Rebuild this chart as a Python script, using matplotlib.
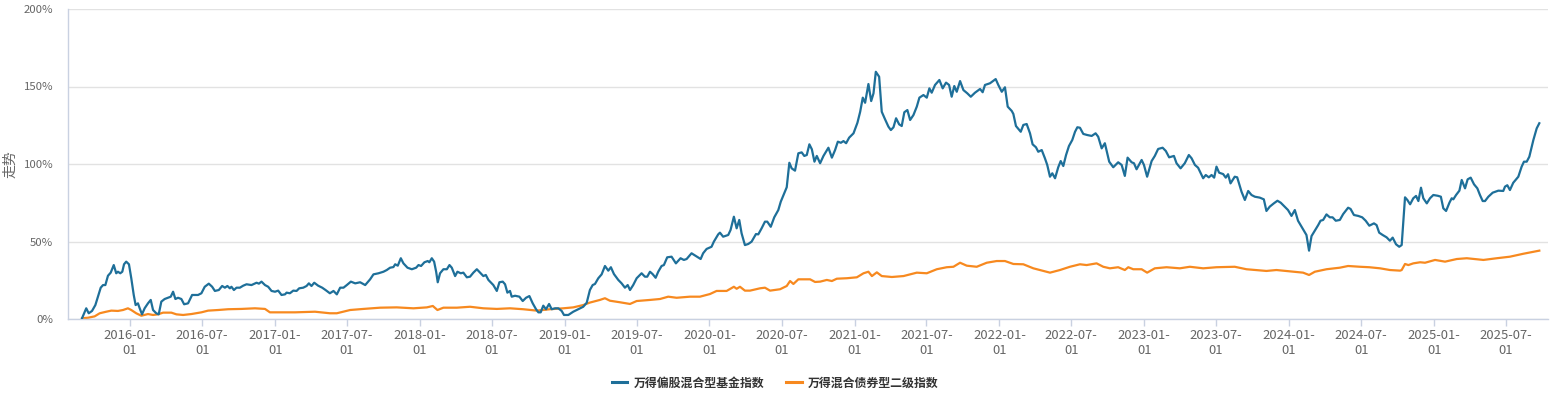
import matplotlib
matplotlib.use("Agg")
import matplotlib.pyplot as plt
from matplotlib.lines import Line2D
from matplotlib.ticker import FuncFormatter
import pandas as pd

plt.rcParams['font.family'] = ['Noto Sans CJK SC', 'DejaVu Sans']

# ---------------- data (decimal years, cumulative return %) ----------------
blue_name = "万得偏股混合型基金指数"
orange_name = "万得混合债券型二级指数"

blue_t = [2015.669, 2015.698, 2015.715, 2015.738, 2015.761, 2015.779, 2015.798, 2015.814, 2015.830, 2015.848,
          2015.867, 2015.888, 2015.905, 2015.917, 2015.933, 2015.947, 2015.959, 2015.974, 2015.993, 2016.009,
          2016.026, 2016.039, 2016.055, 2016.067, 2016.083, 2016.101, 2016.124, 2016.143, 2016.159, 2016.181,
          2016.198, 2016.216, 2016.239, 2016.262, 2016.281, 2016.297, 2016.313, 2016.331, 2016.354, 2016.373,
          2016.400, 2016.428, 2016.469, 2016.492, 2016.515, 2016.543, 2016.566, 2016.585, 2016.612, 2016.635,
          2016.654, 2016.671, 2016.688, 2016.699, 2016.716, 2016.734, 2016.757, 2016.780, 2016.803, 2016.837,
          2016.872, 2016.888, 2016.906, 2016.930, 2016.952, 2016.975, 2016.999, 2017.021, 2017.044, 2017.068,
          2017.079, 2017.102, 2017.125, 2017.148, 2017.166, 2017.194, 2017.217, 2017.233, 2017.251, 2017.270,
          2017.297, 2017.325, 2017.348, 2017.378, 2017.403, 2017.426, 2017.449, 2017.472, 2017.495, 2017.523,
          2017.553, 2017.587, 2017.622, 2017.656, 2017.679, 2017.714, 2017.748, 2017.771, 2017.794, 2017.817,
          2017.829, 2017.847, 2017.868, 2017.886, 2017.914, 2017.944, 2017.974, 2017.990, 2018.008, 2018.031,
          2018.054, 2018.065, 2018.082, 2018.098, 2018.112, 2018.123, 2018.139, 2018.162, 2018.186, 2018.204,
          2018.220, 2018.243, 2018.259, 2018.282, 2018.300, 2018.324, 2018.346, 2018.369, 2018.393, 2018.415,
          2018.438, 2018.455, 2018.473, 2018.507, 2018.531, 2018.549, 2018.572, 2018.588, 2018.604, 2018.622,
          2018.634, 2018.657, 2018.687, 2018.710, 2018.733, 2018.756, 2018.779, 2018.802, 2018.818, 2018.834,
          2018.852, 2018.871, 2018.892, 2018.910, 2018.933, 2018.956, 2018.979, 2018.995, 2019.025, 2019.059,
          2019.094, 2019.128, 2019.152, 2019.174, 2019.193, 2019.209, 2019.232, 2019.255, 2019.278, 2019.301,
          2019.319, 2019.340, 2019.370, 2019.393, 2019.416, 2019.435, 2019.451, 2019.473, 2019.497, 2019.531,
          2019.554, 2019.570, 2019.589, 2019.607, 2019.628, 2019.646, 2019.669, 2019.685, 2019.708, 2019.738,
          2019.768, 2019.800, 2019.823, 2019.842, 2019.876, 2019.906, 2019.939, 2019.956, 2019.980, 2020.014,
          2020.030, 2020.060, 2020.072, 2020.094, 2020.129, 2020.145, 2020.168, 2020.187, 2020.205, 2020.221,
          2020.244, 2020.267, 2020.290, 2020.320, 2020.336, 2020.359, 2020.382, 2020.398, 2020.422, 2020.446,
          2020.474, 2020.491, 2020.532, 2020.550, 2020.566, 2020.589, 2020.612, 2020.635, 2020.653, 2020.670,
          2020.688, 2020.705, 2020.723, 2020.739, 2020.762, 2020.785, 2020.819, 2020.843, 2020.865, 2020.884,
          2020.905, 2020.923, 2020.941, 2020.962, 2020.992, 2021.019, 2021.038, 2021.056, 2021.072, 2021.095,
          2021.114, 2021.130, 2021.146, 2021.169, 2021.187, 2021.210, 2021.233, 2021.250, 2021.268, 2021.286,
          2021.307, 2021.325, 2021.343, 2021.364, 2021.383, 2021.406, 2021.429, 2021.447, 2021.475, 2021.498,
          2021.516, 2021.532, 2021.555, 2021.585, 2021.608, 2021.631, 2021.652, 2021.670, 2021.688, 2021.705,
          2021.728, 2021.751, 2021.778, 2021.802, 2021.831, 2021.866, 2021.884, 2021.900, 2021.935, 2021.974,
          2021.992, 2022.016, 2022.038, 2022.057, 2022.085, 2022.096, 2022.114, 2022.147, 2022.165, 2022.188,
          2022.211, 2022.229, 2022.252, 2022.268, 2022.292, 2022.314, 2022.330, 2022.349, 2022.365, 2022.384,
          2022.406, 2022.423, 2022.441, 2022.460, 2022.480, 2022.503, 2022.522, 2022.538, 2022.556, 2022.579,
          2022.606, 2022.637, 2022.664, 2022.682, 2022.706, 2022.728, 2022.758, 2022.786, 2022.820, 2022.844,
          2022.866, 2022.885, 2022.913, 2022.929, 2022.947, 2022.982, 2022.998, 2023.020, 2023.051, 2023.073,
          2023.096, 2023.127, 2023.149, 2023.172, 2023.205, 2023.223, 2023.251, 2023.280, 2023.308, 2023.327,
          2023.350, 2023.372, 2023.407, 2023.425, 2023.446, 2023.465, 2023.483, 2023.499, 2023.517, 2023.545,
          2023.563, 2023.579, 2023.596, 2023.625, 2023.642, 2023.672, 2023.695, 2023.718, 2023.741, 2023.764,
          2023.798, 2023.826, 2023.844, 2023.867, 2023.895, 2023.920, 2023.943, 2023.970, 2023.993, 2024.017,
          2024.040, 2024.062, 2024.093, 2024.120, 2024.138, 2024.155, 2024.178, 2024.201, 2024.217, 2024.235,
          2024.258, 2024.281, 2024.300, 2024.322, 2024.350, 2024.373, 2024.407, 2024.424, 2024.447, 2024.477,
          2024.504, 2024.528, 2024.553, 2024.585, 2024.603, 2024.621, 2024.645, 2024.672, 2024.695, 2024.714,
          2024.737, 2024.759, 2024.776, 2024.799, 2024.815, 2024.834, 2024.856, 2024.875, 2024.891, 2024.909,
          2024.925, 2024.949, 2024.971, 2024.994, 2025.025, 2025.046, 2025.063, 2025.082, 2025.105, 2025.121,
          2025.132, 2025.151, 2025.174, 2025.190, 2025.213, 2025.231, 2025.252, 2025.275, 2025.298, 2025.316,
          2025.335, 2025.351, 2025.374, 2025.404, 2025.443, 2025.477, 2025.489, 2025.505, 2025.523, 2025.546,
          2025.581, 2025.604, 2025.620, 2025.639, 2025.657, 2025.685, 2025.708, 2025.726]

blue_v = [0.5, 6.9, 3.7, 5.2, 9.0, 14.4, 20.2, 21.9, 21.9, 27.9,
          29.9, 34.8, 29.5, 30.5, 29.5, 30.5, 35.3, 37.0, 35.3, 26.3,
          15.5, 9.0, 10.1, 6.9, 3.0, 6.9, 10.1, 12.3, 5.8, 3.7,
          3.0, 11.2, 12.9, 13.7, 14.4, 17.6, 12.9, 13.7, 12.9, 9.5,
          10.1, 15.5, 15.5, 16.6, 20.8, 22.8, 20.8, 18.1, 18.7, 21.3,
          20.2, 21.3, 19.8, 20.8, 18.7, 20.2, 20.2, 21.5, 22.4, 21.9,
          23.4, 22.8, 24.1, 21.9, 20.8, 18.1, 17.6, 18.3, 15.5, 15.9,
          17.0, 16.6, 18.3, 18.1, 19.8, 20.2, 21.3, 23.0, 21.3, 23.4,
          21.5, 20.2, 18.7, 16.6, 18.1, 15.9, 20.2, 20.2, 21.9, 24.1,
          23.0, 23.7, 21.9, 25.6, 28.8, 29.5, 30.5, 31.6, 33.1, 33.5,
          35.3, 34.4, 39.2, 35.9, 33.1, 32.1, 33.1, 34.8, 34.2, 36.6,
          37.4, 36.6, 39.2, 37.0, 30.5, 23.7, 29.5, 32.1, 32.1, 34.8,
          33.1, 27.7, 30.5, 29.5, 29.9, 26.9, 27.3, 29.9, 32.1, 29.9,
          27.7, 28.4, 25.2, 21.9, 18.1, 23.7, 24.1, 22.4, 17.0, 18.1,
          14.4, 15.0, 14.4, 11.6, 13.7, 14.8, 10.1, 6.3, 4.3, 4.3,
          8.6, 6.3, 9.7, 6.3, 6.9, 6.9, 5.2, 2.6, 2.6, 4.7,
          6.3, 7.9, 10.5, 18.7, 21.9, 22.6, 26.3, 28.8, 34.2, 31.2,
          33.4, 29.0, 25.2, 23.0, 20.2, 21.9, 18.7, 21.9, 26.3, 29.5,
          27.3, 27.3, 30.5, 29.0, 26.6, 30.5, 34.2, 34.8, 39.8, 40.2,
          35.9, 39.2, 38.1, 38.7, 42.4, 40.6, 38.7, 42.4, 45.2, 46.6,
          49.9, 54.6, 55.7, 53.1, 54.2, 57.4, 66.0, 58.5, 63.9, 55.3,
          47.7, 48.4, 49.9, 54.8, 54.6, 58.5, 62.8, 62.8, 59.5, 65.6,
          70.3, 75.7, 85.0, 100.8, 97.2, 95.7, 106.9, 107.5, 105.2, 105.8,
          112.7, 109.5, 101.5, 105.2, 100.5, 105.2, 110.5, 104.1, 109.0, 114.4,
          113.7, 114.8, 113.4, 117.0, 119.8, 126.6, 133.7, 142.8, 139.5, 151.6,
          140.6, 145.6, 159.5, 156.3, 133.7, 128.8, 124.1, 121.9, 123.7, 129.5,
          125.6, 124.5, 133.4, 134.8, 128.4, 131.6, 137.0, 142.8, 144.5, 142.8,
          148.8, 146.0, 151.0, 154.2, 148.8, 152.5, 151.0, 143.4, 150.3, 146.6,
          153.5, 147.7, 145.6, 143.4, 146.0, 148.4, 146.3, 151.0, 152.1, 154.8,
          151.0, 146.6, 149.5, 137.0, 134.2, 132.3, 124.5, 120.8, 125.2, 125.8,
          119.8, 112.7, 110.8, 107.9, 109.0, 103.7, 99.4, 91.8, 94.0, 90.8,
          97.9, 101.9, 98.7, 105.8, 111.6, 115.5, 120.8, 123.7, 123.4, 119.4,
          118.7, 118.1, 119.8, 117.6, 110.1, 113.4, 101.5, 97.9, 101.1, 99.4,
          92.3, 104.1, 101.1, 100.5, 96.6, 102.6, 99.4, 91.8, 101.9, 105.2,
          109.7, 110.5, 108.4, 104.3, 105.2, 100.5, 97.2, 100.5, 105.8, 103.7,
          99.4, 97.6, 90.8, 92.9, 91.4, 92.9, 91.2, 98.3, 94.4, 93.5,
          91.2, 93.4, 87.5, 91.8, 91.4, 82.1, 76.8, 82.6, 80.0, 78.9,
          78.3, 77.2, 69.7, 72.5, 74.6, 76.3, 75.0, 72.5, 70.3, 66.5,
          70.3, 63.4, 58.5, 54.2, 44.1, 53.5, 57.0, 60.6, 63.4, 63.9,
          67.5, 65.6, 65.6, 63.4, 63.9, 67.7, 71.8, 71.0, 67.1, 66.5,
          65.6, 63.4, 60.2, 61.7, 60.6, 55.7, 54.2, 52.7, 50.5, 52.5,
          48.2, 46.6, 47.7, 78.5, 76.8, 74.0, 77.9, 79.4, 76.1, 84.7,
          77.9, 74.6, 77.9, 80.0, 79.5, 78.9, 71.4, 69.7, 75.0, 77.9,
          77.2, 80.0, 82.8, 89.7, 84.3, 90.1, 91.2, 86.9, 84.3, 80.0,
          76.1, 76.1, 78.9, 81.5, 82.8, 82.6, 85.4, 86.3, 83.2, 87.9,
          91.8, 98.3, 101.5, 101.5, 104.7, 115.5, 123.0, 126.3]

orange_t = [2015.669, 2015.710, 2015.756, 2015.791, 2015.836, 2015.871, 2015.917, 2015.952, 2015.986, 2016.009,
            2016.043, 2016.078, 2016.124, 2016.159, 2016.193, 2016.228, 2016.285, 2016.320, 2016.366, 2016.423,
            2016.492, 2016.538, 2016.607, 2016.676, 2016.768, 2016.861, 2016.930, 2016.964, 2017.021, 2017.137,
            2017.275, 2017.378, 2017.426, 2017.518, 2017.610, 2017.725, 2017.840, 2017.955, 2018.048, 2018.089,
            2018.121, 2018.162, 2018.255, 2018.346, 2018.438, 2018.531, 2018.622, 2018.714, 2018.807, 2018.898,
            2018.990, 2019.059, 2019.128, 2019.174, 2019.243, 2019.278, 2019.312, 2019.381, 2019.451, 2019.497,
            2019.589, 2019.658, 2019.715, 2019.773, 2019.865, 2019.934, 2020.003, 2020.049, 2020.118, 2020.168,
            2020.187, 2020.210, 2020.244, 2020.279, 2020.348, 2020.382, 2020.417, 2020.486, 2020.532, 2020.555,
            2020.578, 2020.612, 2020.693, 2020.727, 2020.762, 2020.808, 2020.843, 2020.877, 2020.946, 2021.015,
            2021.061, 2021.095, 2021.119, 2021.153, 2021.187, 2021.257, 2021.337, 2021.429, 2021.498, 2021.567,
            2021.636, 2021.682, 2021.728, 2021.774, 2021.843, 2021.912, 2021.981, 2022.038, 2022.096, 2022.165,
            2022.234, 2022.280, 2022.349, 2022.418, 2022.487, 2022.556, 2022.602, 2022.671, 2022.717, 2022.763,
            2022.820, 2022.866, 2022.890, 2022.924, 2022.982, 2023.020, 2023.073, 2023.154, 2023.246, 2023.315,
            2023.407, 2023.499, 2023.625, 2023.706, 2023.844, 2023.913, 2024.028, 2024.097, 2024.138, 2024.178,
            2024.258, 2024.350, 2024.407, 2024.489, 2024.553, 2024.627, 2024.695, 2024.765, 2024.776, 2024.799,
            2024.822, 2024.856, 2024.903, 2024.937, 2025.006, 2025.075, 2025.156, 2025.225, 2025.340, 2025.432,
            2025.523, 2025.616, 2025.685, 2025.726]

orange_v = [0.5, 0.8, 1.7, 3.7, 4.7, 5.4, 5.2, 5.8, 6.9, 5.8,
            3.7, 2.1, 3.2, 2.6, 3.0, 4.1, 4.1, 3.0, 2.6, 3.2,
            4.3, 5.4, 5.8, 6.3, 6.5, 6.9, 6.5, 4.3, 4.3, 4.3,
            4.7, 3.7, 3.7, 5.8, 6.5, 7.3, 7.5, 6.9, 7.5, 8.4,
            5.8, 7.3, 7.3, 7.9, 6.9, 6.5, 6.9, 6.3, 5.4, 6.3,
            6.9, 7.5, 9.0, 10.6, 12.3, 13.4, 11.8, 10.8, 9.7, 11.6,
            12.3, 12.9, 14.4, 13.7, 14.4, 14.4, 16.1, 18.1, 18.1, 20.8,
            19.5, 20.8, 18.3, 18.3, 19.8, 20.2, 18.3, 19.2, 21.3, 24.5,
            22.6, 25.6, 25.6, 23.9, 24.1, 25.2, 24.5, 26.0, 26.3, 26.9,
            29.5, 30.5, 27.7, 30.1, 27.7, 27.1, 27.7, 29.9, 29.5, 32.1,
            33.4, 33.7, 36.3, 34.4, 33.7, 36.3, 37.4, 37.4, 35.5, 35.3,
            32.7, 31.6, 29.9, 31.6, 33.7, 35.3, 34.8, 35.9, 33.7, 32.7,
            33.4, 31.6, 33.4, 32.1, 32.1, 29.9, 32.7, 33.4, 32.7, 33.7,
            32.7, 33.4, 33.7, 32.1, 31.0, 31.6, 30.5, 29.9, 28.4, 30.5,
            32.1, 33.1, 34.2, 33.7, 33.4, 32.7, 31.6, 31.2, 31.6, 35.5,
            34.8, 35.9, 36.6, 36.3, 38.1, 37.0, 38.7, 39.2, 38.1, 39.2,
            40.2, 42.1, 43.4, 44.1]

y_ticks = [0, 50, 100, 150, 200]
x_tick_dates = ["2016-01-01", "2016-07-01", "2017-01-01", "2017-07-01", "2018-01-01",
                "2018-07-01", "2019-01-01", "2019-07-01", "2020-01-01", "2020-07-01",
                "2021-01-01", "2021-07-01", "2022-01-01", "2022-07-01", "2023-01-01",
                "2023-07-01", "2024-01-01", "2024-07-01", "2025-01-01", "2025-07-01"]
y_label = "走势"

assert len(blue_t) == len(blue_v)
assert len(orange_t) == len(orange_v)


def dec_to_dt(y):
    yr = int(y)
    start = pd.Timestamp(yr, 1, 1)
    end = pd.Timestamp(yr + 1, 1, 1)
    return start + (end - start) * (y - yr)


BLUE = "#1e6f99"
ORANGE = "#f7891f"
AXIS = "#c9d1e1"
GRID = "#e2e2e2"
TXT = "#666666"

W, H = 1561, 396
fig = plt.figure(figsize=(W / 100, H / 100), dpi=100)
ax = fig.add_axes([68 / W, 1 - 319 / H, 1480 / W, 310 / H])

ax.plot([dec_to_dt(t) for t in blue_t], blue_v, color=BLUE, lw=1.6,
        solid_joinstyle="round", zorder=3)
ax.plot([dec_to_dt(t) for t in orange_t], orange_v, color=ORANGE, lw=1.6,
        solid_joinstyle="round", zorder=2)

ax.set_ylim(0, 200)
ax.set_yticks(y_ticks)
ax.yaxis.set_major_formatter(FuncFormatter(lambda v, p: f"{v:.0f}%"))
ax.yaxis.grid(True, color=GRID, lw=1)
ax.set_axisbelow(True)

ax.set_xlim(dec_to_dt(2015.572), dec_to_dt(2025.786))
ticks = [pd.Timestamp(d) for d in x_tick_dates]
ax.set_xticks(ticks)
ax.set_xticklabels([d[:8] + "\n" + d[8:] for d in x_tick_dates])

for s in ["top", "right"]:
    ax.spines[s].set_visible(False)
for s in ["left", "bottom"]:
    ax.spines[s].set_color(AXIS)
    ax.spines[s].set_linewidth(1)

ax.tick_params(axis="y", length=0, pad=10.5, labelsize=8.2, labelcolor=TXT)
ax.tick_params(axis="x", length=5, width=1, color=AXIS, pad=2.5,
               labelsize=9.4, labelcolor=TXT)
for lab in ax.get_xticklabels():
    lab.set_linespacing(1.2)

fig.text(10 / W, 1 - 164 / H, y_label, rotation=90, ha="center", va="center",
         fontsize=10, color=TXT)

handles = [Line2D([], [], color=BLUE, lw=2.2), Line2D([], [], color=ORANGE, lw=2.2)]
leg = fig.legend(handles, [blue_name, orange_name], loc="center",
                 bbox_to_anchor=(775 / W, 1 - 383 / H), ncol=2, frameon=False,
                 fontsize=8.6, handlelength=1.3, handletextpad=0.5,
                 columnspacing=1.85, borderaxespad=0, borderpad=0)
for t in leg.get_texts():
    t.set_color("#333333")
    t.set_fontweight("bold")

fig.savefig("out.png", dpi=100)
